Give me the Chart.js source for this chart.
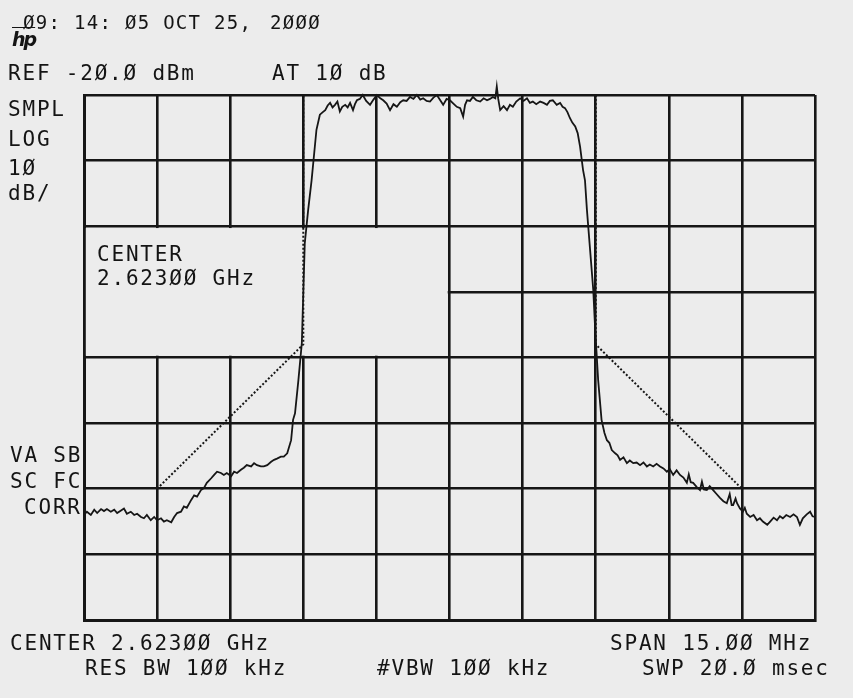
<!DOCTYPE html>
<html><head><meta charset="utf-8">
<script src="https://cdn.jsdelivr.net/npm/chart.js@4.4.1/dist/chart.umd.min.js"></script>
<style>
html,body{margin:0;padding:0;background:#ececec;}
#wrap{position:relative;width:853px;height:698px;overflow:hidden;background:#ececec;}
canvas{position:absolute;left:0;top:0;}
.t{position:absolute;font-family:"DejaVu Sans Mono",monospace;font-size:21px;line-height:21px;letter-spacing:1.8px;color:#141414;white-space:pre;}
.s{font-size:19px;line-height:19px;letter-spacing:1.3px;}
.hp{position:absolute;font-family:"DejaVu Sans",sans-serif;font-style:italic;font-weight:bold;font-size:19px;color:#141414;letter-spacing:-2px;text-decoration:overline;}
</style></head><body>
<div id="wrap"><canvas id="c" width="853" height="698"></canvas></div>
<script>
// Frequency offset from center (MHz) and measured level (dBm)
const freqMHz = [
-7.50,-7.44,-7.36,-7.29,-7.23,-7.15,-7.09,-7.03,-6.95,-6.88,-6.82,-6.74,-6.68,-6.62,-6.54,-6.47,-6.41,-6.33,-6.27,-6.21,
-6.13,-6.06,-6.00,-5.92,-5.86,-5.80,-5.71,-5.65,-5.59,-5.51,-5.45,-5.39,-5.30,-5.24,-5.18,-5.10,-5.04,-4.98,-4.89,-4.83,
-4.77,-4.69,-4.63,-4.57,-4.48,-4.42,-4.36,-4.28,-4.22,-4.16,-4.07,-4.01,-3.95,-3.87,-3.81,-3.74,-3.66,-3.60,-3.54,-3.46,
-3.40,-3.33,-3.25,-3.21,-3.17,-3.10,-3.03,-2.97,-2.90,-2.83,-2.73,-2.66,-2.60,
-2.55,-2.50,-2.45,-2.40,-2.35,-2.30,-2.25,-2.20,-2.14,-2.09,-2.04,-1.98,-1.94,-1.90,-1.84,-1.78,-1.71,-1.63,-1.56,-1.49,
-1.42,-1.36,-1.29,-1.22,-1.15,-1.08,-1.01,-0.95,-0.88,-0.81,-0.74,-0.67,-0.60,-0.54,-0.47,-0.40,-0.33,-0.26,-0.19,-0.13,
-0.06,0.01,0.08,0.15,0.22,0.28,0.32,0.36,0.42,0.48,0.55,0.63,0.70,0.77,0.83,0.89,0.94,0.97,1.00,1.04,
1.11,1.18,1.24,1.30,1.37,1.45,1.52,1.59,1.65,1.71,1.78,1.86,1.93,2.00,2.06,2.12,2.20,2.27,2.32,2.37,
2.42,2.47,2.52,2.58,2.63,2.68,2.74,2.78,2.82,2.95,2.99,3.05,3.12,3.18,3.23,3.28,3.33,3.40,3.45,3.50,
3.57,3.64,3.70,3.77,3.84,3.91,3.98,4.05,4.11,4.18,4.25,4.32,4.39,4.46,4.52,4.59,4.66,4.73,4.80,4.87,
4.91,4.95,5.00,5.07,5.14,5.18,5.22,5.28,5.34,5.41,5.48,5.55,5.62,5.69,5.75,5.79,5.82,5.87,5.90,5.96,
6.02,6.06,6.10,6.17,6.24,6.31,6.37,6.43,6.52,6.58,6.65,6.72,6.78,6.84,6.91,6.99,7.06,7.13,7.19,7.25,
7.33,7.40,7.45,7.50
];
const levelDbm = [
-84.0,-83.5,-84.0,-83.2,-83.7,-83.1,-83.4,-83.1,-83.5,-83.2,-83.7,-83.3,-83.0,-83.8,-83.5,-84.0,-83.8,-84.3,-84.5,-84.0,
-84.8,-84.3,-84.8,-84.5,-85.0,-84.8,-85.1,-84.3,-83.7,-83.5,-82.7,-82.9,-81.7,-81.0,-81.2,-80.2,-79.9,-79.1,-78.4,-77.9,
-77.4,-77.6,-77.9,-77.6,-78.1,-77.4,-77.6,-77.1,-76.8,-76.4,-76.6,-76.1,-76.4,-76.6,-76.6,-76.4,-75.9,-75.6,-75.4,-75.1,
-75.1,-74.6,-72.6,-69.5,-68.5,-63.4,-57.8,-42.6,-37.5,-33.0,-25.3,-23.0,-22.6,
-22.3,-21.6,-21.2,-21.9,-21.5,-21.0,-22.5,-21.8,-21.5,-21.9,-21.2,-22.3,-21.4,-20.8,-20.6,-20.0,-20.9,-21.5,-20.7,-20.0,
-20.5,-20.8,-21.3,-22.3,-21.4,-21.8,-21.1,-20.8,-20.9,-20.3,-20.6,-20.0,-20.7,-20.5,-20.9,-21.0,-20.4,-20.0,-20.8,-21.5,
-20.6,-20.8,-21.3,-21.8,-22.0,-23.3,-21.5,-20.8,-20.9,-20.3,-20.8,-21.0,-20.5,-20.8,-20.6,-20.3,-20.5,-18.7,-20.6,-22.3,
-21.7,-22.3,-21.5,-21.8,-21.0,-20.5,-20.9,-20.5,-21.2,-21.0,-21.4,-21.0,-21.2,-21.5,-20.9,-20.8,-21.5,-21.2,-21.8,-22.0,
-22.6,-23.5,-24.2,-24.8,-25.8,-27.9,-31.4,-33.0,-37.5,-49.7,-55.8,-63.4,-69.5,-71.5,-72.6,-73.0,-74.1,-74.6,-74.9,-75.6,
-75.2,-76.1,-75.7,-76.1,-76.0,-76.4,-76.0,-76.6,-76.3,-76.6,-76.2,-76.6,-76.9,-77.4,-77.0,-77.9,-77.2,-77.9,-78.3,-79.1,
-77.8,-79.0,-79.1,-79.7,-80.2,-78.9,-80.1,-80.2,-79.6,-80.2,-80.8,-81.4,-81.9,-82.2,-80.8,-82.5,-82.5,-81.5,-82.2,-83.0,
-83.5,-82.9,-83.8,-84.3,-84.0,-84.8,-84.5,-85.0,-85.5,-85.0,-84.4,-84.8,-84.2,-84.5,-84.0,-84.3,-83.9,-84.3,-85.5,-84.5,
-83.9,-83.5,-84.2,-84.3
];
// Spectrum mask (dotted limit line)
const maskLeftFreq = [-6, -3, -3];
const maskLeftDbm = [-80, -58, -20];
const maskRightFreq = [3, 3, 6];
const maskRightDbm = [-20, -58, -80];
// Axis settings: center 2.623 GHz, span 15 MHz, ref -20 dBm, 10 dB/div
const xRangeMHz = [-7.5, 7.5];
const xStepMHz = 1.5;
const yRangeDbm = [-100, -20];
const yStepDb = 10;
// Annotation box (grid blanked) in data units
const boxFreq = [-7.5, 0];
const boxDbm = [-40, -60];

// Text annotations
const texts = [
  {s:'Ø9: 14: Ø5 OCT 25,', x:23, b:29, small:true},
  {s:'2ØØØ', x:270, b:29, small:true},
  {s:'REF -2Ø.Ø dBm', x:8, b:81},
  {s:'AT 1Ø dB', x:272, b:81},
  {s:'SMPL', x:8, b:117},
  {s:'LOG', x:8, b:147},
  {s:'1Ø', x:8, b:176},
  {s:'dB/', x:8, b:201},
  {s:'CENTER', x:97, b:262},
  {s:'2.623ØØ GHz', x:97, b:286},
  {s:'VA SB', x:10, b:463},
  {s:'SC FC', x:10, b:489},
  {s:'CORR', x:24, b:515},
  {s:'CENTER 2.623ØØ GHz', x:10, b:651},
  {s:'SPAN 15.ØØ MHz', x:610, b:651},
  {s:'RES BW 1ØØ kHz', x:85, b:676},
  {s:'#VBW 1ØØ kHz', x:377, b:676},
  {s:'SWP 2Ø.Ø msec', x:642, b:676}
];

const BG = '#ececec';
const INK = '#161616';
const wrap = document.getElementById('wrap');
texts.forEach(t => {
  const d = document.createElement('div');
  d.className = 't' + (t.small ? ' s' : '');
  d.textContent = t.s;
  d.style.left = t.x + 'px';
  d.style.top = (t.b - (t.small ? 16.1 : 17.8)) + 'px';
  wrap.appendChild(d);
});
const hp = document.createElement('div');
hp.className = 'hp'; hp.textContent = 'hp';
hp.style.left = '12px'; hp.style.top = '28px';
wrap.appendChild(hp);

const pts = (xs, ys) => xs.map((x, i) => ({x, y: ys[i]}));

const blankBox = {
  id: 'blankBox',
  beforeDatasetsDraw(chart) {
    const {ctx, scales: {x, y}} = chart;
    const l = x.getPixelForValue(boxFreq[0]), r = x.getPixelForValue(boxFreq[1]);
    const t = y.getPixelForValue(boxDbm[0]), b = y.getPixelForValue(boxDbm[1]);
    ctx.save();
    ctx.fillStyle = BG;
    ctx.fillRect(l + 1.8, t + 1.8, r - l - 3.6, b - t - 3.6);
    ctx.restore();
  }
};

Chart.defaults.devicePixelRatio = 1;
new Chart(document.getElementById('c'), {
  type: 'scatter',
  data: {
    datasets: [
      {data: pts(freqMHz, levelDbm), showLine: true, borderColor: INK, borderWidth: 1.8, pointRadius: 0, tension: 0, clip: false},
      {data: pts(maskLeftFreq, maskLeftDbm), showLine: true, borderColor: INK, borderWidth: 2, borderDash: [2, 2], pointRadius: 0},
      {data: pts(maskRightFreq, maskRightDbm), showLine: true, borderColor: INK, borderWidth: 2, borderDash: [2, 2], pointRadius: 0}
    ]
  },
  options: {
    responsive: false,
    animation: false,
    layout: {padding: {left: 84, top: 95, right: 38, bottom: 78}},
    plugins: {legend: {display: false}, tooltip: {enabled: false}},
    scales: {
      x: {
        type: 'linear', min: xRangeMHz[0], max: xRangeMHz[1],
        ticks: {display: false, stepSize: xStepMHz},
        grid: {color: INK, lineWidth: 2.6, drawTicks: false},
        border: {display: true, color: INK, width: 3},
        afterFit(s) { s.height = 0; }
      },
      y: {
        type: 'linear', min: yRangeDbm[0], max: yRangeDbm[1],
        ticks: {display: false, stepSize: yStepDb},
        grid: {color: INK, lineWidth: 2.6, drawTicks: false},
        border: {display: true, color: INK, width: 3},
        afterFit(s) { s.width = 0; }
      }
    }
  },
  plugins: [blankBox]
});
</script>
</body></html>
